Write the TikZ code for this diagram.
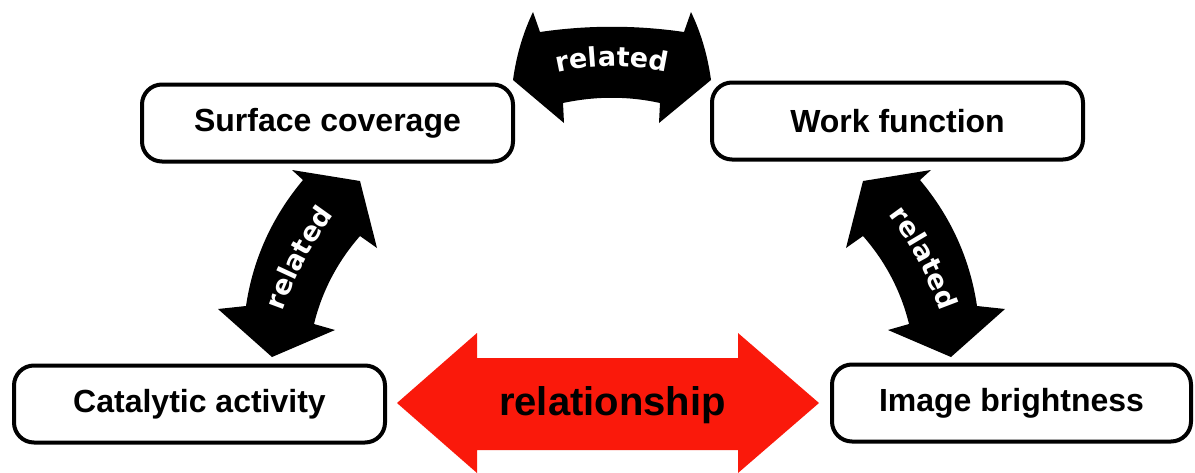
\documentclass[tikz,border=0pt]{standalone}
\usepackage{fontspec}
\setmainfont{Liberation Sans}
\newfontfamily\relfont{DejaVu Sans}
\usepackage{tikz}
\usetikzlibrary{decorations.text}
\definecolor{relred}{HTML}{FA190B}
\tikzset{
  box/.style={draw=black,line width=4pt,rounded corners=20pt,fill=white,inner sep=0pt,minimum width=371pt,minimum height=77pt,font=\fontsize{32}{38}\selectfont\bfseries},
  barrow/.style={fill=black},
  reltext/.style={decorate,decoration={text along path,text align=center,text={|\relfont\bfseries\fontsize{27}{30}\selectfont\color{white}|related}}},
}
\begin{document}
\begin{tikzpicture}[x=1pt,y=-1pt]
\useasboundingbox (0,0) rectangle (1195,472);
% curved arrows
\fill[barrow] (513,80) .. controls (516,58) and (522,35) .. (533,12) -- (540,32)
  .. controls (588,25) and (636,25) .. (684,32) -- (691,12)
  .. controls (702,35) and (708,58) .. (711,80) -- (659,123) -- (660,103)
  .. controls (628,96) and (596,96) .. (563,103) -- (564,123) -- cycle;
\fill[barrow] (272,357) -- (335,330) -- (314,324) .. controls (322,291) and (338,261) .. (360,236)
  -- (377,248) -- (360,181) -- (292,170) -- (303,180)
  .. controls (272,217) and (253,259) .. (246,306) -- (218,309) -- cycle;
\fill[barrow] (951,357) -- (888,330) -- (909,324) .. controls (901,291) and (885,261) .. (863,236)
  -- (846,248) -- (863,181) -- (931,170) -- (920,180)
  .. controls (951,217) and (970,259) .. (977,306) -- (1005,309) -- cycle;
\path[reltext] (552,74) .. controls (590,64) and (634,64) .. (672,74);
\path[reltext] (283,311) .. controls (295,277) and (312,244) .. (334,215);
\path[reltext] (889,215) .. controls (911,244) and (928,277) .. (940,311);
% boxes
\node[box] (surf) at (327.5,123) {Surface coverage};
\node[box] (work) at (897.5,121) {Work function};
\node[box] (cat) at (199.5,404) {Catalytic activity};
\node[box,minimum width=359pt] (img) at (1011.5,403) {Image brightness};
% relationship arrow
\fill[relred] (397,403) -- (477,333) -- (477,358) -- (738,358) -- (738,333) -- (819,403)
  -- (738,473) -- (738,450) -- (477,450) -- (477,473) -- cycle;
\node[font=\fontsize{40}{48}\selectfont\bfseries,anchor=base] (rel) at (612.5,415) {relationship};
\end{tikzpicture}
\end{document}
